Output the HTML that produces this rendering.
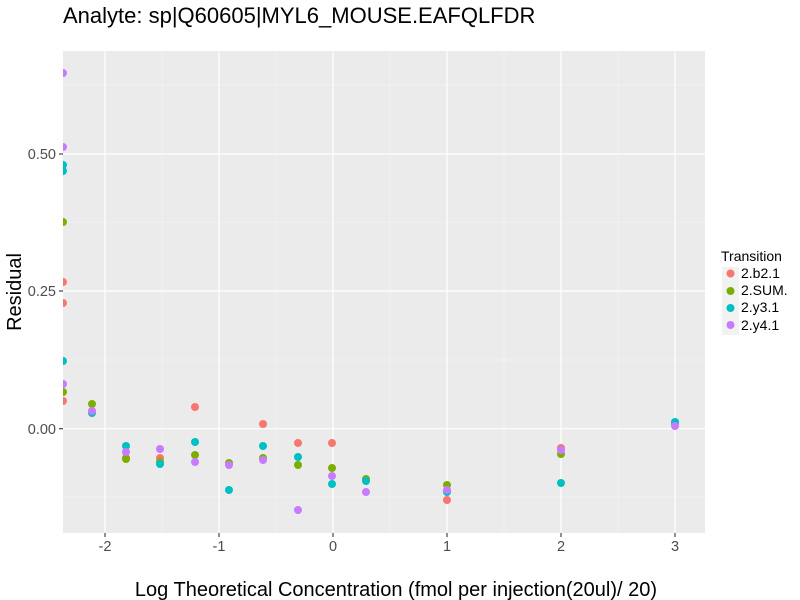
<!DOCTYPE html>
<html><head><meta charset="utf-8"><style>
html,body{margin:0;padding:0;background:#fff;}
svg{display:block;font-family:"Liberation Sans",sans-serif;}
</style></head><body>
<svg width="800" height="600" viewBox="0 0 800 600" xmlns="http://www.w3.org/2000/svg">
<rect width="800" height="600" fill="#fff"/>
<text x="63" y="23" font-size="22" fill="#000">Analyte: sp|Q60605|MYL6_MOUSE.EAFQLFDR</text>
<rect x="63" y="51" width="642" height="482" fill="#EBEBEB"/>
<g stroke="#F5F5F5" stroke-width="0.6" fill="none">
<line x1="63" x2="705" y1="85" y2="85"/><line x1="63" x2="705" y1="222.5" y2="222.5"/><line x1="63" x2="705" y1="360" y2="360"/><line x1="63" x2="705" y1="497" y2="497"/>
<line x1="162" x2="162" y1="51" y2="533"/><line x1="276" x2="276" y1="51" y2="533"/><line x1="390" x2="390" y1="51" y2="533"/><line x1="504" x2="504" y1="51" y2="533"/><line x1="618" x2="618" y1="51" y2="533"/>
</g>
<g stroke="#fff" stroke-width="1.2" fill="none">
<line x1="63" x2="705" y1="154" y2="154"/><line x1="63" x2="705" y1="291" y2="291"/><line x1="63" x2="705" y1="428.7" y2="428.7"/>
<line x1="105" x2="105" y1="51" y2="533"/><line x1="219" x2="219" y1="51" y2="533"/><line x1="333" x2="333" y1="51" y2="533"/><line x1="447" x2="447" y1="51" y2="533"/><line x1="561" x2="561" y1="51" y2="533"/><line x1="675" x2="675" y1="51" y2="533"/>
</g>
<defs><clipPath id="c"><rect x="63" y="51" width="642" height="482"/></clipPath></defs>
<g clip-path="url(#c)">
<g fill="#F8766D"><circle cx="63" cy="282" r="4"/><circle cx="63" cy="303" r="4"/><circle cx="63" cy="401" r="4"/>
<circle cx="126" cy="458" r="4"/><circle cx="160" cy="458" r="4"/><circle cx="195" cy="407" r="4"/><circle cx="263" cy="424" r="4"/><circle cx="298" cy="443" r="4"/><circle cx="332" cy="443" r="4"/><circle cx="447" cy="500" r="4"/><circle cx="561" cy="448" r="4"/><circle cx="675" cy="424" r="4"/></g>
<g fill="#7CAE00"><circle cx="63" cy="222" r="4"/><circle cx="63" cy="392" r="4"/><circle cx="92" cy="404" r="4"/>
<circle cx="126" cy="459" r="4"/><circle cx="160" cy="462" r="4"/><circle cx="195" cy="455" r="4"/><circle cx="229" cy="463" r="4"/><circle cx="263" cy="458" r="4"/><circle cx="298" cy="465" r="4"/><circle cx="332" cy="468" r="4"/><circle cx="366" cy="479" r="4"/><circle cx="447" cy="485" r="4"/><circle cx="561" cy="454" r="4"/><circle cx="675" cy="424" r="4"/></g>
<g fill="#00BFC4"><circle cx="63" cy="165" r="4"/><circle cx="63" cy="171" r="4"/><circle cx="63" cy="361" r="4"/><circle cx="92" cy="413" r="4"/>
<circle cx="126" cy="446" r="4"/><circle cx="160" cy="464" r="4"/><circle cx="195" cy="442" r="4"/><circle cx="229" cy="490" r="4"/><circle cx="263" cy="446" r="4"/><circle cx="298" cy="457" r="4"/><circle cx="332" cy="484" r="4"/><circle cx="366" cy="481" r="4"/><circle cx="447" cy="492" r="4"/><circle cx="561" cy="483" r="4"/><circle cx="675" cy="422" r="4"/></g>
<g fill="#C77CFF"><circle cx="63" cy="73" r="4"/><circle cx="63" cy="147" r="4"/><circle cx="63" cy="384" r="4"/><circle cx="92" cy="411" r="4"/>
<circle cx="126" cy="452" r="4"/><circle cx="160" cy="449" r="4"/><circle cx="195" cy="462" r="4"/><circle cx="229" cy="465" r="4"/><circle cx="263" cy="460" r="4"/><circle cx="298" cy="510" r="4"/><circle cx="332" cy="476" r="4"/><circle cx="366" cy="492" r="4"/><circle cx="447" cy="490" r="4"/><circle cx="561" cy="450" r="4"/><circle cx="675" cy="426" r="4"/></g>
</g>
<g stroke="#333" stroke-width="1.1">
<line x1="59" x2="63" y1="154" y2="154"/><line x1="59" x2="63" y1="291" y2="291"/><line x1="59" x2="63" y1="428.7" y2="428.7"/>
<line x1="105" x2="105" y1="533" y2="537"/><line x1="219" x2="219" y1="533" y2="537"/><line x1="333" x2="333" y1="533" y2="537"/><line x1="447" x2="447" y1="533" y2="537"/><line x1="561" x2="561" y1="533" y2="537"/><line x1="675" x2="675" y1="533" y2="537"/>
</g>
<g font-size="14.5" fill="#4D4D4D" text-anchor="end">
<text x="56" y="159">0.50</text><text x="56" y="296">0.25</text><text x="56" y="434">0.00</text>
</g>
<g font-size="14.5" fill="#4D4D4D" text-anchor="middle">
<text x="105" y="551">-2</text><text x="219" y="551">-1</text><text x="333" y="551">0</text><text x="447" y="551">1</text><text x="561" y="551">2</text><text x="675" y="551">3</text>
</g>
<text x="396" y="596" font-size="20" text-anchor="middle" fill="#000">Log Theoretical Concentration (fmol per injection(20ul)/ 20)</text>
<text transform="translate(21,292) rotate(-90)" font-size="20" text-anchor="middle" fill="#000">Residual</text>
<text x="721" y="261" font-size="14" fill="#000">Transition</text>
<g>
<rect x="722" y="267" width="17" height="17" fill="#F2F2F2"/><circle cx="730.5" cy="273.5" r="4" fill="#F8766D"/>
<rect x="722" y="284" width="17" height="17" fill="#F2F2F2"/><circle cx="730.5" cy="291" r="4" fill="#7CAE00"/>
<rect x="722" y="301" width="17" height="17" fill="#F2F2F2"/><circle cx="730.5" cy="308" r="4" fill="#00BFC4"/>
<rect x="722" y="318" width="17" height="17" fill="#F2F2F2"/><circle cx="730.5" cy="325" r="4" fill="#C77CFF"/>
</g>
<g font-size="14" fill="#000">
<text x="741" y="278">2.b2.1</text><text x="741" y="295">2.SUM.</text><text x="741" y="312">2.y3.1</text><text x="741" y="330">2.y4.1</text>
</g>
</svg>
</body></html>
